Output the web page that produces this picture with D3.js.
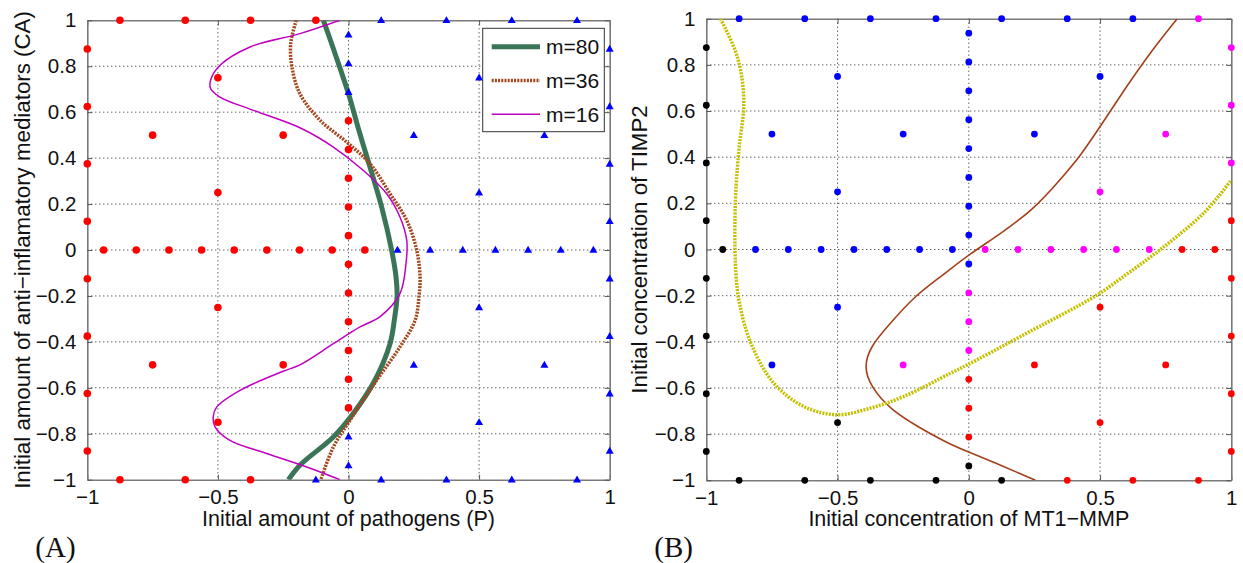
<!DOCTYPE html>
<html>
<head>
<meta charset="utf-8">
<script src="https://cdn.jsdelivr.net/npm/d3@7"></script>
<style>
    body { margin: 0; background: #fff; }
    svg { display: block; font-family: "Liberation Sans", Arial, sans-serif; }
</style>
</head>
<body>
<svg id="chart" width="1243" height="563"></svg>
<script>
let ticks_x = [-1, -0.5, 0, 0.5, 1];
let ticks_y = [-1, -0.8, -0.6, -0.4, -0.2, 0, 0.2, 0.4, 0.6, 0.8, 1];

// panel A
let red_a = [
    [-1, 0.875], [-1, 0.625], [-1, 0.375], [-1, 0.125], [-1, -0.125], [-1, -0.375], [-1, -0.625], [-1, -0.875],
    [-0.875, 1], [-0.625, 1], [-0.375, 1], [-0.125, 1],
    [-0.875, -1], [-0.625, -1], [-0.375, -1],
    [-0.9375, 0], [-0.8125, 0], [-0.6875, 0], [-0.5625, 0], [-0.4375, 0], [-0.3125, 0], [-0.1875, 0], [-0.0625, 0], [0.0625, 0],
    [0, 0.5625], [0, 0.4375], [0, 0.3125], [0, 0.1875], [0, 0.0625], [0, -0.0625], [0, -0.1875], [0, -0.3125], [0, -0.4375], [0, -0.5625], [0, -0.6875],
    [-0.5, 0.75], [-0.75, 0.5], [-0.25, 0.5], [-0.5, 0.25], [-0.5, -0.25], [-0.75, -0.5], [-0.25, -0.5], [-0.5, -0.75]
];
let blue_a = [
    [0.125, 1], [0.375, 1], [0.625, 1], [0.875, 1],
    [-0.125, -1], [0.125, -1], [0.375, -1], [0.625, -1], [0.875, -1],
    [1, 0.875], [1, 0.625], [1, 0.375], [1, 0.125], [1, -0.125], [1, -0.375], [1, -0.625], [1, -0.875],
    [0.1875, 0], [0.3125, 0], [0.4375, 0], [0.5625, 0], [0.6875, 0], [0.8125, 0], [0.9375, 0],
    [0, 0.9375], [0, 0.8125], [0, 0.6875], [0, -0.8125], [0, -0.9375],
    [0.5, 0.75], [0.25, 0.5], [0.75, 0.5], [0.5, 0.25], [0.5, -0.25], [0.25, -0.5], [0.75, -0.5], [0.5, -0.75]
];
let m80 = [
    [-0.096, 1], [-0.05, 0.85], [0, 0.68], [0.04, 0.52], [0.082, 0.362], [0.127, 0.187], [0.165, 0],
    [0.182, -0.118], [0.186, -0.2], [0.176, -0.3], [0.159, -0.408], [0.101, -0.567], [0.018, -0.712],
    [-0.058, -0.814], [-0.186, -0.937], [-0.23, -1]
];
let m36 = [
    [-0.2, 1], [-0.221, 0.9], [-0.217, 0.8], [-0.186, 0.68], [-0.109, 0.565], [-0.007, 0.47], [0.082, 0.376],
    [0.159, 0.245], [0.223, 0.129], [0.261, 0], [0.274, -0.118], [0.27, -0.2], [0.255, -0.306],
    [0.197, -0.422], [0.108, -0.567], [0.006, -0.741], [-0.058, -0.858], [-0.106, -1]
];
let m16 = [
    [-0.033, 1], [-0.186, 0.942], [-0.377, 0.884], [-0.492, 0.804], [-0.528, 0.739], [-0.528, 0.703], [-0.492, 0.666],
    [-0.364, 0.608], [-0.186, 0.532], [-0.058, 0.448], [0.056, 0.347], [0.146, 0.245], [0.197, 0.144],
    [0.223, 0.042], [0.22, -0.06], [0.197, -0.19], [0.121, -0.29], [0.044, -0.335], [-0.058, -0.408],
    [-0.186, -0.5], [-0.25, -0.528], [-0.415, -0.611], [-0.505, -0.684], [-0.518, -0.727], [-0.511, -0.77],
    [-0.454, -0.829], [-0.313, -0.886], [-0.16, -0.945], [-0.033, -1]
];
let legend_a = ["m=80", "m=36", "m=16"];

// panel B
let blue_b = [
    [-0.875, 1], [-0.625, 1], [-0.375, 1], [-0.125, 1], [0.125, 1], [0.375, 1], [0.625, 1],
    [-0.8125, 0], [-0.6875, 0], [-0.5625, 0], [-0.4375, 0], [-0.3125, 0], [-0.1875, 0], [-0.0625, 0],
    [0, 0.9375], [0, 0.8125], [0, 0.6875], [0, 0.5625], [0, 0.4375], [0, 0.3125], [0, 0.1875], [0, 0.0625], [0, -0.0625],
    [-0.5, 0.75], [-0.75, 0.5], [-0.25, 0.5], [-0.5, 0.25], [0.5, 0.75], [0.25, 0.5], [-0.5, -0.25], [-0.75, -0.5]
];
let black_b = [
    [-1, 0.875], [-1, 0.625], [-1, 0.375], [-1, 0.125], [-1, -0.125], [-1, -0.375], [-1, -0.625], [-1, -0.875],
    [-0.875, -1], [-0.625, -1], [-0.375, -1], [-0.125, -1], [0.125, -1],
    [-0.9375, 0], [0, -0.9375], [-0.5, -0.75]
];
let magenta_b = [
    [0.875, 1], [1, 0.875], [1, 0.625], [1, 0.375],
    [0.0625, 0], [0.1875, 0], [0.3125, 0], [0.4375, 0], [0.5625, 0], [0.6875, 0],
    [0, -0.1875], [0, -0.3125], [0, -0.4375],
    [0.75, 0.5], [0.5, 0.25], [-0.25, -0.5]
];
let red_b = [
    [1, 0.125], [1, -0.125], [1, -0.375], [1, -0.625], [1, -0.875],
    [0.375, -1], [0.625, -1], [0.875, -1],
    [0.8125, 0], [0.9375, 0],
    [0, -0.5625], [0, -0.6875], [0, -0.8125],
    [0.5, -0.25], [0.25, -0.5], [0.75, -0.5], [0.5, -0.75]
];
let brown_b = [
    [0.794, 1], [0.692, 0.855], [0.603, 0.71], [0.502, 0.535], [0.425, 0.405], [0.349, 0.304], [0.248, 0.174],
    [0.108, 0.058], [0.006, -0.017], [-0.108, -0.119], [-0.21, -0.205], [-0.311, -0.335], [-0.374, -0.42],
    [-0.4, -0.507], [-0.374, -0.594], [-0.298, -0.695], [-0.184, -0.775], [-0.07, -0.845], [-0.006, -0.875],
    [0.133, -0.94], [0.254, -1]
];
let yellow_b = [
    [-0.946, 1], [-0.882, 0.835], [-0.857, 0.647], [-0.876, 0.43], [-0.889, 0.213], [-0.889, -0.06],
    [-0.876, -0.218], [-0.83, -0.406], [-0.743, -0.579], [-0.629, -0.68], [-0.501, -0.716], [-0.374, -0.687],
    [-0.248, -0.637], [-0.07, -0.536], [-0.006, -0.5], [0.197, -0.377], [0.489, -0.197], [0.578, -0.126],
    [0.73, 0], [0.895, 0.158], [0.997, 0.296]
];

let svg = d3.select('#chart');

function draw_panel(box, x_label, y_label, y_label_x, tag, clip_id) {
    let x = d3.scaleLinear().domain([-1, 1]).range([box.left, box.right]);
    let y = d3.scaleLinear().domain([-1, 1]).range([box.bottom, box.top]);
    let g = svg.append('g');

    g.append('clipPath').attr('id', clip_id)
        .append('rect')
        .attr('x', box.left).attr('y', box.top)
        .attr('width', box.right - box.left).attr('height', box.bottom - box.top);

    // grid
    g.append('g').selectAll('line.gx')
        .data(ticks_x.slice(1, -1))
        .enter().append('line')
        .attr('x1', d => x(d)).attr('x2', d => x(d))
        .attr('y1', box.top).attr('y2', box.bottom)
        .attr('stroke', '#222').attr('stroke-width', 1).attr('stroke-dasharray', '1,3');
    g.append('g').selectAll('line.gy')
        .data(ticks_y.slice(1, -1))
        .enter().append('line')
        .attr('y1', d => y(d)).attr('y2', d => y(d))
        .attr('x1', box.left).attr('x2', box.right)
        .attr('stroke', '#222').attr('stroke-width', 1).attr('stroke-dasharray', '1,3');

    // axes, ticks inside on every side
    let fmt = d3.format('~g');
    let ax_b = g.append('g').attr('transform', `translate(0,${box.bottom})`)
        .call(d3.axisBottom(x).tickValues(ticks_x).tickSizeInner(-5).tickSizeOuter(0).tickPadding(10).tickFormat(fmt));
    let ax_t = g.append('g').attr('transform', `translate(0,${box.top})`)
        .call(d3.axisTop(x).tickValues(ticks_x).tickSizeInner(-5).tickSizeOuter(0).tickFormat(''));
    let ax_l = g.append('g').attr('transform', `translate(${box.left},0)`)
        .call(d3.axisLeft(y).tickValues(ticks_y).tickSizeInner(-5).tickSizeOuter(0).tickPadding(11).tickFormat(fmt));
    let ax_r = g.append('g').attr('transform', `translate(${box.right},0)`)
        .call(d3.axisRight(y).tickValues(ticks_y).tickSizeInner(-5).tickSizeOuter(0).tickFormat(''));
    [ax_b, ax_t, ax_l, ax_r].forEach(function (a) {
        a.select('.domain').attr('stroke', '#7a7a7a').attr('stroke-width', 1.6);
        a.selectAll('.tick line').attr('stroke', '#555');
        a.selectAll('text').attr('fill', '#111').style('font-size', '20.5px')
            .style('font-family', '"Liberation Sans", Arial, sans-serif');
    });
    ax_b.selectAll('text').attr('dy', '0.72em');

    g.append('text')
        .attr('x', (box.left + box.right) / 2).attr('y', 526)
        .attr('text-anchor', 'middle').style('font-size', '21.5px').attr('fill', '#111')
        .text(x_label);
    g.append('text')
        .attr('transform', `translate(${y_label_x},${(box.top + box.bottom) / 2}) rotate(-90)`)
        .attr('text-anchor', 'middle').style('font-size', '22.3px').attr('fill', '#111')
        .text(y_label);
    g.append('text')
        .attr('x', box.left - 52).attr('y', 557)
        .style('font-family', '"Liberation Serif", "Times New Roman", serif').style('font-size', '29px')
        .attr('fill', '#111')
        .text(tag);

    let plot = g.append('g').attr('clip-path', `url(#${clip_id})`);
    return {x: x, y: y, g: g, plot: plot};
}

function add_line(panel, data, color, width, dash, curve) {
    let line = d3.line().x(d => panel.x(d[0])).y(d => panel.y(d[1])).curve(curve);
    panel.plot.append('path')
        .datum(data)
        .attr('d', line)
        .attr('fill', 'none')
        .attr('stroke', color)
        .attr('stroke-width', width)
        .attr('stroke-dasharray', dash);
}

function add_dots(panel, data, color, r) {
    panel.g.append('g').selectAll('circle')
        .data(data)
        .enter().append('circle')
        .attr('cx', d => panel.x(d[0]))
        .attr('cy', d => panel.y(d[1]))
        .attr('r', r)
        .attr('fill', color);
}

function add_triangles(panel, data, color) {
    panel.g.append('g').selectAll('path')
        .data(data)
        .enter().append('path')
        .attr('d', d3.symbol(d3.symbolTriangle).size(28))
        .attr('transform', d => `translate(${panel.x(d[0])},${panel.y(d[1]) + 0.5})`)
        .attr('fill', color);
}

let smooth = d3.curveCatmullRom.alpha(0.5);

let panel_a = draw_panel({left: 87.3, right: 609.7, top: 20.3, bottom: 479.7},
    'Initial amount of pathogens (P)', 'Initial amount of anti\u2212inflamatory mediators (CA)', 30, '(A)', 'clip_a');

add_dots(panel_a, red_a, '#ff0000', 3.8);
add_triangles(panel_a, blue_a, '#0000ff');

let styles_a = [
    {data: m80, color: '#3b7558', width: 5, dash: null},
    {data: m36, color: '#a5461c', width: 3.5, dash: '2,1.2'},
    {data: m16, color: '#c000c0', width: 1.5, dash: null}
];
styles_a.forEach(s => add_line(panel_a, s.data, s.color, s.width, s.dash, smooth));

let legend = panel_a.g.append('g');
legend.append('rect')
    .attr('x', 482.7).attr('y', 28.3).attr('width', 121.6).attr('height', 103.4)
    .attr('fill', '#fff').attr('stroke', '#333').attr('stroke-width', 1);
legend.selectAll('g.item')
    .data(legend_a)
    .enter().append('g')
    .each(function (d, i) {
        let item = d3.select(this);
        let ly = 46.7 + i * 33.8;
        item.append('line')
            .attr('x1', 491.7).attr('x2', 540).attr('y1', ly).attr('y2', ly)
            .attr('stroke', styles_a[i].color).attr('stroke-width', styles_a[i].width)
            .attr('stroke-dasharray', styles_a[i].dash);
        item.append('text')
            .attr('x', 546).attr('y', ly).attr('dy', '0.36em')
            .style('font-size', '21px').attr('fill', '#111')
            .text(d);
    });

let panel_b = draw_panel({left: 706.3, right: 1231.3, top: 18.7, bottom: 480.3},
    'Initial concentration of MT1\u2212MMP', 'Initial concentration of TIMP2', 647, '(B)', 'clip_b');

add_line(panel_b, brown_b, '#a3401a', 1.6, null, d3.curveBasis);
add_line(panel_b, yellow_b, '#c4c000', 3.5, '2,1.2', smooth);

add_dots(panel_b, blue_b, '#0000ff', 3.4);
add_dots(panel_b, black_b, '#000000', 3.4);
add_dots(panel_b, magenta_b, '#ff00ff', 3.4);
add_dots(panel_b, red_b, '#ff0000', 3.4);
</script>
</body>
</html>
